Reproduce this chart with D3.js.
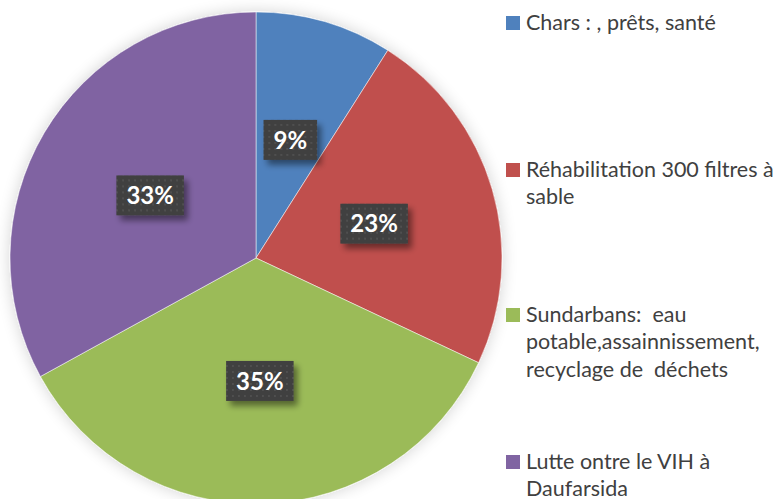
<!DOCTYPE html>
<html>
<head>
<meta charset="utf-8">
<script src="https://cdn.jsdelivr.net/npm/d3@7"></script>
<style>
  body { margin: 0; background: #fff; }
  svg { display: block; font-family: Lato, "Open Sans", sans-serif; }
  text { white-space: pre; }
</style>
</head>
<body>
<div id="chart"></div>
<script>
// Slice names (legend order)
var CATEGORIES = [
  ['Chars : , prêts, santé'],
  ['Réhabilitation 300 filtres à', 'sable'],
  ['Sundarbans:  eau', 'potable,assainnissement,', 'recyclage de  déchets'],
  ['Lutte ontre le VIH à', 'Daufarsida']
];
// Percent per slice
var VALUES = [9, 23, 35, 33];
var COLORS = ['#4F81BD', '#C0504D', '#9BBB59', '#8064A2'];

var W = 783, H = 499;
var CX = 256, CY = 258, R = 246;

var svg = d3.select('#chart').append('svg')
  .attr('width', W).attr('height', H);

var defs = svg.append('defs');

// soft glow around the pie
var f1 = defs.append('filter').attr('id', 'pieshadow')
  .attr('x', '-20%').attr('y', '-20%').attr('width', '140%').attr('height', '140%');
f1.append('feGaussianBlur').attr('in', 'SourceAlpha').attr('stdDeviation', 8).attr('result', 'b');
f1.append('feComponentTransfer').attr('in', 'b').attr('result', 'b2')
  .append('feFuncA').attr('type', 'linear').attr('slope', 0.18);
var m1 = f1.append('feMerge');
m1.append('feMergeNode').attr('in', 'b2');
m1.append('feMergeNode').attr('in', 'SourceGraphic');

// label box shadow
var f2 = defs.append('filter').attr('id', 'boxshadow')
  .attr('x', '-30%').attr('y', '-30%').attr('width', '170%').attr('height', '180%');
f2.append('feGaussianBlur').attr('in', 'SourceAlpha').attr('stdDeviation', 3).attr('result', 'b');
f2.append('feOffset').attr('in', 'b').attr('dx', 4).attr('dy', 5).attr('result', 'o');
f2.append('feComponentTransfer').attr('in', 'o').attr('result', 'o2')
  .append('feFuncA').attr('type', 'linear').attr('slope', 0.45);
var m2 = f2.append('feMerge');
m2.append('feMergeNode').attr('in', 'o2');
m2.append('feMergeNode').attr('in', 'SourceGraphic');

// dotted pattern for label boxes
var pat = defs.append('pattern').attr('id', 'dots')
  .attr('width', 6).attr('height', 6).attr('patternUnits', 'userSpaceOnUse');
pat.append('rect').attr('width', 6).attr('height', 6).attr('fill', '#3f3f3f');
pat.append('circle').attr('cx', 3).attr('cy', 3).attr('r', 1).attr('fill', '#555');

var pie = d3.pie().sort(null).value(function(d) { return d; });
var arc = d3.arc().innerRadius(0).outerRadius(R);
var labelArc = d3.arc().innerRadius(R * 0.5).outerRadius(R * 0.5);

var g = svg.append('g').attr('transform', 'translate(' + CX + ',' + CY + ')');

var arcs = pie(VALUES);

g.append('g').attr('filter', 'url(#pieshadow)')
  .selectAll('path')
  .data(arcs)
  .enter().append('path')
    .attr('d', arc)
    .attr('fill', function(d, i) { return COLORS[i]; })
    .attr('stroke', '#fff')
    .attr('stroke-width', 0.5);

// data labels
var lab = g.selectAll('.lab')
  .data(arcs)
  .enter().append('g')
    .attr('class', 'lab')
    .attr('transform', function(d) { return 'translate(' + labelArc.centroid(d) + ')'; });

lab.each(function(d) {
  var el = d3.select(this);
  var t = el.append('text')
    .attr('text-anchor', 'middle')
    .attr('dy', '0.36em')
    .attr('fill', '#fff')
    .attr('font-weight', 'bold')
    .attr('font-size', 24)
    .text(d.value + '%');
  var bb = t.node().getBBox();
  el.insert('rect', 'text')
    .attr('x', bb.x - 10).attr('y', -20)
    .attr('width', bb.width + 20).attr('height', 40)
    .attr('fill', 'url(#dots)')
    .attr('filter', 'url(#boxshadow)');
});

// legend
var LEG_Y = [16, 163, 308, 455];
var LINE_H = 27.5;
var leg = svg.append('g').attr('transform', 'translate(506,0)');

CATEGORIES.forEach(function(lines, i) {
  leg.append('rect')
    .attr('x', 0).attr('y', LEG_Y[i])
    .attr('width', 14).attr('height', 14)
    .attr('fill', COLORS[i]);
  var t = leg.append('text')
    .attr('font-size', 21.5)
    .attr('fill', '#404040');
  lines.forEach(function(s, j) {
    t.append('tspan').attr('x', 20).attr('y', LEG_Y[i] + 13.5 + j * LINE_H).text(s);
  });
});
</script>
</body>
</html>
